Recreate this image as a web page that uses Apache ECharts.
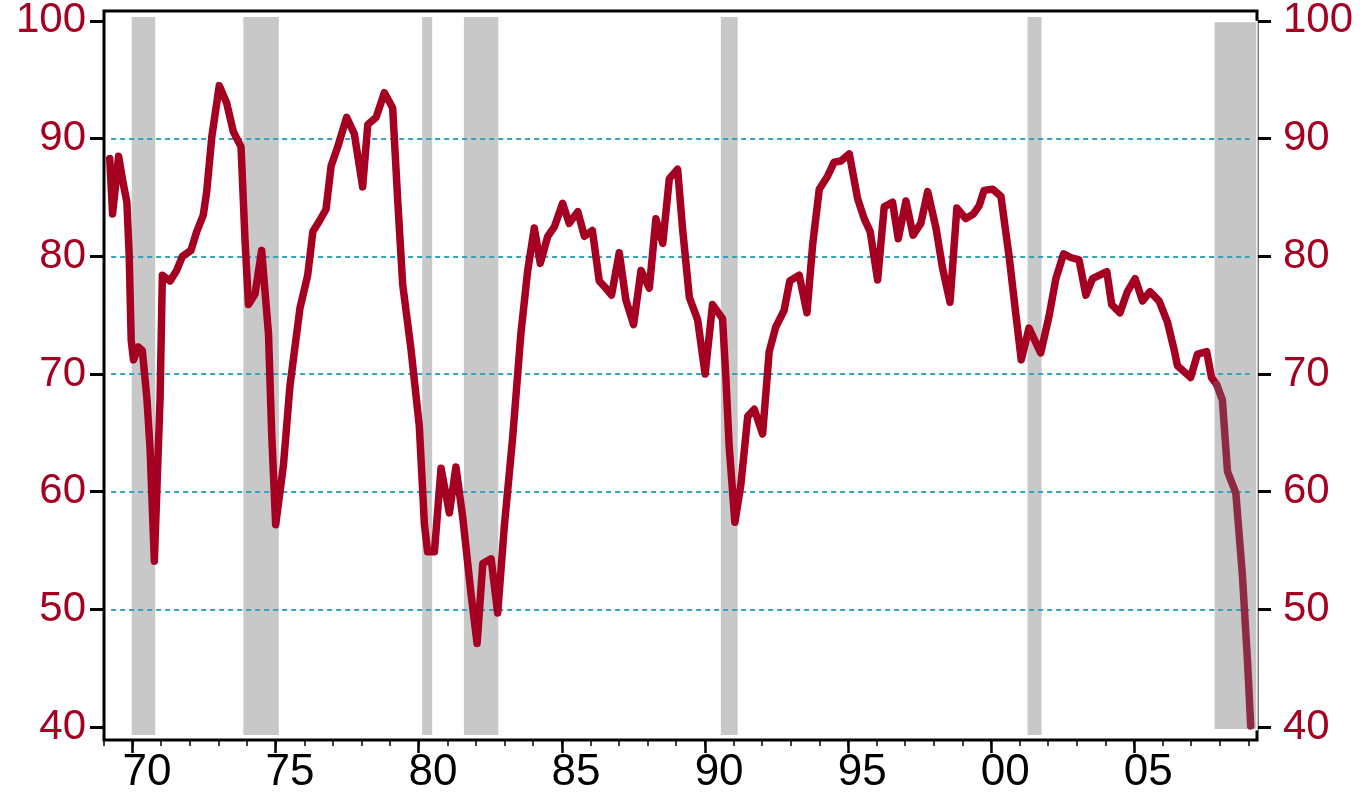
<!DOCTYPE html>
<html>
<head>
<meta charset="utf-8">
<script src="https://cdn.jsdelivr.net/npm/echarts@6/dist/echarts.min.js"></script>
<style>
html, body { margin: 0; padding: 0; background: #fff; }
#chart { width: 1364px; height: 795px; }
</style>
</head>
<body>
<div id="chart"></div>
<script>
// quarterly readings, decimal year
var years = [1969.2,1969.3,1969.51,1969.67,1969.8,1969.88,1969.95,1970.03,1970.2,1970.34,
    1970.5,1970.61,1970.76,1970.96,1971.04,1971.31,1971.54,1971.74,1972.04,1972.24,
    1972.47,1972.59,1972.77,1973.03,1973.29,1973.52,1973.79,1973.93,1974.05,1974.28,
    1974.51,1974.75,1974.86,1975.0,1975.27,1975.5,1975.85,1976.12,1976.3,1976.53,
    1976.76,1976.94,1977.17,1977.48,1977.75,1978.04,1978.22,1978.51,1978.8,1979.09,
    1979.27,1979.44,1979.73,1980.02,1980.2,1980.31,1980.55,1980.78,1981.07,1981.3,
    1981.54,1981.83,1982.04,1982.24,1982.53,1982.76,1982.99,1983.28,1983.57,1983.81,
    1984.04,1984.25,1984.51,1984.74,1985.03,1985.26,1985.56,1985.79,1986.07,1986.31,
    1986.54,1986.74,1987.01,1987.24,1987.51,1987.77,1988.06,1988.29,1988.53,1988.76,
    1989.05,1989.22,1989.46,1989.75,1990.01,1990.27,1990.62,1990.74,1990.85,1991.05,
    1991.26,1991.5,1991.73,1992.02,1992.25,1992.48,1992.77,1992.97,1993.3,1993.57,
    1993.77,1994.0,1994.29,1994.52,1994.76,1995.05,1995.34,1995.57,1995.78,1996.04,
    1996.27,1996.56,1996.76,1997.03,1997.28,1997.55,1997.79,1998.08,1998.31,1998.57,
    1998.81,1999.12,1999.39,1999.59,1999.76,2000.06,2000.35,2000.64,2000.87,2001.06,
    2001.33,2001.74,2002.03,2002.27,2002.54,2002.79,2003.08,2003.32,2003.55,2004.05,
    2004.22,2004.51,2004.77,2005.04,2005.3,2005.56,2005.88,2006.17,2006.4,2006.52,
    2006.98,2007.22,2007.54,2007.71,2007.89,2008.09,2008.27,2008.56,2008.79,2008.97,2009.08];

var sentiment = [88.3,83.6,88.5,86.2,84.6,80.1,72.9,71.2,72.3,72.0,
    67.9,63.7,54.1,67.9,78.4,77.9,78.8,80.0,80.5,82.1,
    83.5,85.5,90.2,94.5,93.0,90.6,89.3,81.3,75.9,76.8,
    80.5,73.4,65.0,57.2,62.2,69.0,75.6,78.4,82.1,83.0,
    84.0,87.7,89.3,91.8,90.4,85.9,91.2,91.8,93.9,92.6,
    84.6,77.6,72.1,65.6,57.2,54.9,54.9,62.0,58.2,62.1,
    57.8,51.3,47.1,53.9,54.3,49.7,57.0,64.5,73.4,78.8,
    82.4,79.4,81.7,82.5,84.5,82.8,83.8,81.7,82.2,77.9,
    77.3,76.7,80.3,76.3,74.2,78.8,77.3,83.2,81.1,86.6,
    87.4,82.4,76.5,74.6,70.0,75.9,74.7,69.5,63.9,57.4,
    60.6,66.4,67.0,64.9,71.9,74.0,75.4,77.9,78.4,75.2,
    81.0,85.7,86.8,88.0,88.1,88.7,84.9,83.2,82.1,78.0,
    84.2,84.6,81.5,84.7,81.8,82.8,85.5,82.4,79.0,76.1,
    84.1,83.2,83.6,84.3,85.6,85.7,85.1,79.9,75.1,71.2,
    73.9,71.8,74.9,78.1,80.2,79.9,79.7,76.7,78.1,78.7,
    75.9,75.2,77.0,78.1,76.2,77.0,76.2,74.4,72.1,70.7,
    69.7,71.7,71.9,69.7,69.1,67.8,61.7,59.9,52.9,45.5,40.1];

// recession shading (start, end)
var recessionStart = [1969.97, 1973.87, 1980.12, 1981.58, 1990.56, 2001.28];
var recessionEnd   = [1970.79, 1975.11, 1980.47, 1982.78, 1991.15, 2001.77];
var lastRecession  = [2007.79, 2009.3];

var yTicks = [40, 50, 60, 70, 80, 90, 100];
var gridLevels = [50, 60, 70, 80, 90];
var yearTicks = [];
for (var y = 1969; y <= 2009; y++) yearTicks.push(y);
var majorYears = [1970, 1975, 1980, 1985, 1990, 1995, 2000, 2005];
var labelYears = majorYears.map(function (v) { return v + 0.5; });

var red = '#a50021';
var muted = '#8e2a44';
var font = 'Arial, "Liberation Sans", sans-serif';

// split the line where the last shaded band starts (band tints the line)
var splitIdx = 0;
while (years[splitIdx] < lastRecession[0]) splitIdx++;
var lineData = [], lineDataLate = [];
years.forEach(function (t, i) {
    if (i <= splitIdx) lineData.push([t, sentiment[i]]);
    if (i >= splitIdx) lineDataLate.push([t, sentiment[i]]);
});

var bandData = recessionStart.map(function (s, i) {
    return [{ xAxis: s, yAxis: 39.33 }, { xAxis: recessionEnd[i], yAxis: 100.34 }];
});
bandData.push([
    { xAxis: lastRecession[0], yAxis: 39.78,
      itemStyle: { color: '#c6c6c6', borderColor: '#ffffff', borderWidth: 1.5 } },
    { xAxis: lastRecession[1], yAxis: 99.94 }
]);

var gridLineData = gridLevels.map(function (v) {
    return [{ coord: [1969.25, v] }, { coord: [2009.04, v] }];
});

var myChart = echarts.init(document.getElementById('chart'));

// 11.9 px per unit, 100 sits at y=20
var yMax = 100 + 10 / 11.9;
var yMin = yMax - 737 / 11.9;

var yAxisBase = function (pos, margin) {
    return {
        type: 'value',
        position: pos,
        min: yMin,
        max: yMax,
        axisLine: { show: false },
        splitLine: { show: false },
        axisTick: {
            show: true, customValues: yTicks, length: 14,
            lineStyle: { color: '#000', width: 3 }
        },
        axisLabel: {
            customValues: yTicks, color: red, fontSize: 42,
            fontFamily: font, margin: margin
        }
    };
};

var xAxisBase = {
    type: 'value',
    min: 1969,
    max: 2009.3,
    position: 'bottom',
    axisLine: { show: false },
    splitLine: { show: false }
};

var option = {
    animation: false,
    backgroundColor: '#fff',
    grid: {
        left: 104, right: 107, top: 10, bottom: 48,
        show: true, borderColor: '#000', borderWidth: 3
    },
    xAxis: [
        echarts.util.merge({
            axisTick: {
                show: true, customValues: yearTicks, length: 6,
                lineStyle: { color: '#000', width: 1.5 }
            },
            axisLabel: {
                customValues: labelYears, color: '#000', fontSize: 44,
                fontFamily: font, margin: 11,
                formatter: function (v) {
                    var yy = Math.floor(v) % 100;
                    return (yy < 10 ? '0' : '') + yy;
                }
            }
        }, xAxisBase),
        echarts.util.merge({
            axisLabel: { show: false },
            axisTick: {
                show: true, customValues: majorYears, length: 13,
                lineStyle: { color: '#000', width: 2.5 }
            }
        }, xAxisBase)
    ],
    yAxis: [yAxisBase('left', 18), yAxisBase('right', 26)],
    series: [
        {
            name: 'bands',
            type: 'line',
            data: [],
            z: 1,
            markArea: {
                silent: true,
                itemStyle: { color: '#c8c8c8' },
                data: bandData
            }
        },
        {
            name: 'grid',
            type: 'line',
            data: [],
            z: 2,
            markLine: {
                silent: true,
                symbol: 'none',
                label: { show: false },
                lineStyle: { color: '#34a3bd', width: 2, type: [5, 4] },
                data: gridLineData
            }
        },
        {
            name: 'sentiment',
            type: 'line',
            data: lineData,
            symbol: 'none',
            z: 5,
            lineStyle: { width: 7.5, color: red, join: 'round', cap: 'round' }
        },
        {
            name: 'sentiment late',
            type: 'line',
            data: lineDataLate,
            symbol: 'none',
            z: 5,
            lineStyle: { width: 7.5, color: muted, join: 'round', cap: 'round' }
        }
    ]
};

myChart.setOption(option);
</script>
</body>
</html>
